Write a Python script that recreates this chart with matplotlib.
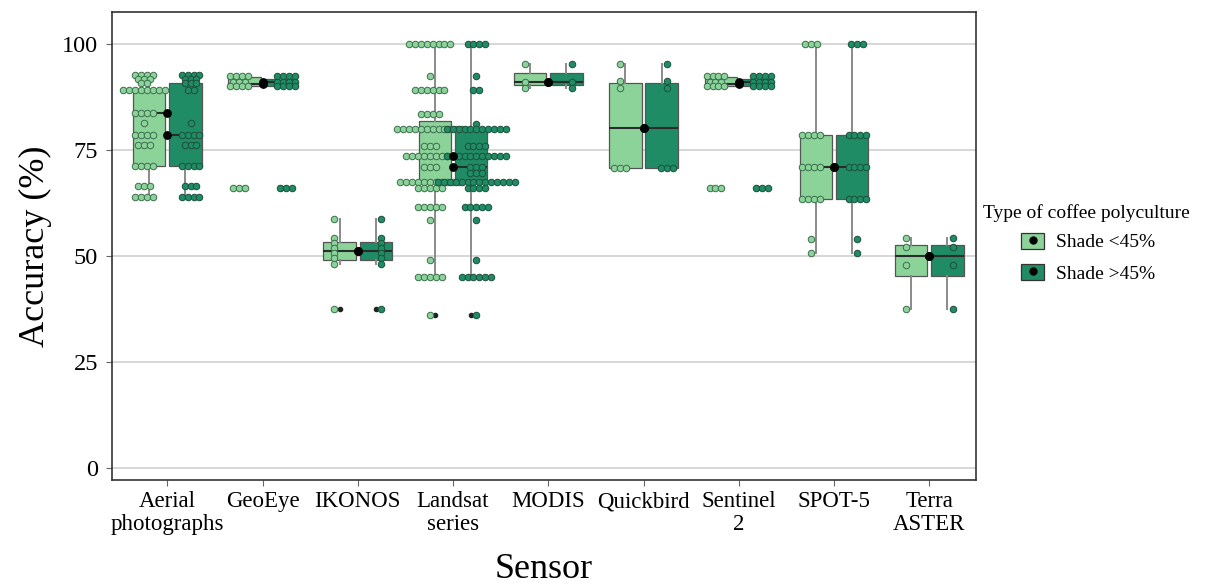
import numpy as np
import matplotlib
matplotlib.use("Agg")
import matplotlib.pyplot as plt
from matplotlib.patches import Patch
from matplotlib.lines import Line2D

plt.rcParams['font.family'] = ['Liberation Serif', 'DejaVu Serif']

# categorias e grupos
sensors = ["Aerial\nphotographs", "GeoEye", "IKONOS", "Landsat\nseries", "MODIS",
           "Quickbird", "Sentinel\n2", "SPOT-5", "Terra\nASTER"]
groups = ["Shade <45%", "Shade >45%"]
colors = ["#8cd39a", "#1f8c66"]
dot_edge = ["#3b6e4e", "#1d4f3a"]

# accuracy rows (value, how many dots in the row)
aerial_lo_acc = [92.7, 91.7, 90.7, 89.2, 83.7, 81.3, 78.5, 76.2, 71.1, 66.4, 64.0]
aerial_lo_n = [4, 3, 2, 8, 4, 1, 4, 3, 4, 3, 4]
aerial_hi_acc = [92.7, 91.7, 90.7, 89.2, 81.3, 78.5, 76.2, 71.1, 66.4, 64.0]
aerial_hi_n = [4, 3, 3, 2, 1, 4, 3, 4, 3, 4]

geoeye_lo_acc = [92.5, 91.0, 90.0, 66.0]
geoeye_lo_n = [4, 3, 4, 3]
geoeye_hi_acc = [92.5, 91.0, 90.0, 66.0]
geoeye_hi_n = [4, 4, 4, 3]

ikonos_acc = [58.7, 54.2, 53.0, 51.8, 50.6, 49.5, 48.1, 37.5]
ikonos_n = [1, 1, 1, 1, 1, 1, 1, 1]

landsat_lo_acc = [100, 92.5, 89, 83.5, 80, 76, 73.5, 71, 67.5, 66, 61.5, 58.5, 49, 45, 36]
landsat_lo_n = [8, 1, 6, 4, 12, 3, 9, 3, 11, 5, 5, 1, 1, 5, 1]
landsat_hi_acc = [100, 92.5, 89, 81, 80, 76, 73.5, 71, 69.5, 67.5, 66, 61.5, 58.5, 49, 45, 36]
landsat_hi_n = [4, 1, 2, 1, 11, 4, 11, 3, 3, 14, 4, 5, 1, 1, 6, 1]

modis_acc = [95.2, 91.0, 89.5]
modis_n = [1, 1, 1]

quickbird_acc = [95.2, 91.3, 89.5, 70.8]
quickbird_n = [1, 1, 1, 3]

sentinel_lo_acc = [92.5, 91.0, 90.0, 66.0]
sentinel_lo_n = [4, 3, 4, 3]
sentinel_hi_acc = [92.5, 91.0, 90.0, 66.0]
sentinel_hi_n = [4, 4, 4, 3]

spot_acc = [100, 78.5, 71, 63.5, 54, 50.8]
spot_n = [3, 4, 4, 4, 1, 1]

terra_acc = [54.2, 52.0, 47.9, 37.4]
terra_n = [1, 1, 1, 1]

rows_lo = [(aerial_lo_acc, aerial_lo_n), (geoeye_lo_acc, geoeye_lo_n), (ikonos_acc, ikonos_n),
           (landsat_lo_acc, landsat_lo_n), (modis_acc, modis_n), (quickbird_acc, quickbird_n),
           (sentinel_lo_acc, sentinel_lo_n), (spot_acc, spot_n), (terra_acc, terra_n)]
rows_hi = [(aerial_hi_acc, aerial_hi_n), (geoeye_hi_acc, geoeye_hi_n), (ikonos_acc, ikonos_n),
           (landsat_hi_acc, landsat_hi_n), (modis_acc, modis_n), (quickbird_acc, quickbird_n),
           (sentinel_hi_acc, sentinel_hi_n), (spot_acc, spot_n), (terra_acc, terra_n)]

box_off = 0.19
dot_off = 0.245
dot_step = 0.062

fig = plt.figure(figsize=(12.25, 5.86), dpi=100)
ax = fig.add_axes([112 / 1225, 106 / 586, 864 / 1225, 468 / 586])

x = np.arange(1, len(sensors) + 1)
for g, rows in enumerate([rows_lo, rows_hi]):
    sign = -1 if g == 0 else 1
    data = [np.repeat(v, n) for v, n in rows]
    ax.boxplot(data, positions=x + sign * box_off, widths=0.34, whis=1.8,
               patch_artist=True, showcaps=False, manage_ticks=False,
               boxprops=dict(facecolor=colors[g], edgecolor="#555555", linewidth=0.9),
               whiskerprops=dict(color="#8a8a8a", linewidth=1.4),
               medianprops=dict(color="#2b2b2b", linewidth=1.5),
               flierprops=dict(marker="o", markerfacecolor="#222222",
                               markeredgecolor="#222222", markersize=3),
               zorder=2)
    # dotplot rows
    for i, (vals, cnts) in enumerate(rows):
        for v, n in zip(vals, cnts):
            xs = x[i] + sign * dot_off + (np.arange(n) - (n - 1) / 2) * dot_step
            ax.scatter(xs, np.full(n, v), s=22, color=colors[g],
                       edgecolor=dot_edge[g], linewidth=0.7, zorder=3)
    # black median point in the middle of each pair
    med = [np.median(d) for d in data]
    ax.scatter(x, med, s=28, color="black", zorder=4)

ax.set_xlim(0.42, 9.49)
ax.set_ylim(-2.8, 107.5)
ax.set_xticks(x)
ax.set_xticklabels(sensors, fontsize=16.5, linespacing=1.1)
ax.set_yticks([0, 25, 50, 75, 100])
ax.tick_params(axis="both", length=4, color="#666666", pad=4)
ax.tick_params(axis="y", labelsize=17.5, pad=6)
ax.yaxis.grid(True, color="#d4d4d4", linewidth=1.3)
ax.set_axisbelow(True)
for s in ax.spines.values():
    s.set_color("#333333")
    s.set_linewidth(1.2)

ax.set_xlabel("Sensor", fontsize=26, va="center")
ax.xaxis.set_label_coords(0.5, (480 - 570) / 468)
ax.set_ylabel("Accuracy (%)", fontsize=26, va="center")
ax.yaxis.set_label_coords((35 - 112) / 864, 0.5)

# legend
fig.text(983 / 1225, 1 - 213 / 586, "Type of coffee polyculture", fontsize=14,
         ha="left", va="center")
handles = [(Patch(facecolor=c, edgecolor="#333333", linewidth=0.9),
            Line2D([], [], marker="o", ls="", color="black", markersize=5))
           for c in colors]
fig.legend(handles, groups, loc="upper left", bbox_to_anchor=(1021 / 1225, 1 - 233 / 586),
           frameon=False, fontsize=14, handlelength=1.2, handleheight=0.85,
           labelspacing=0.65, handletextpad=0.6, borderpad=0, borderaxespad=0)

fig.savefig("out.png", dpi=100)
